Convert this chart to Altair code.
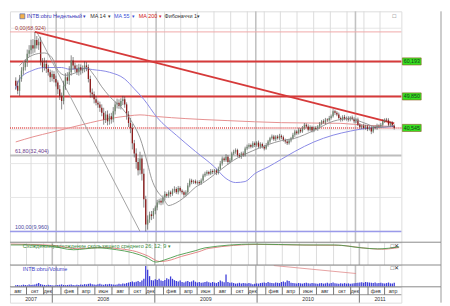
import altair as alt
import pandas as pd

FONT = "Liberation Sans"
FIRST_WEEK = "2007-08-06"
X_START = alt.DateTime(year=2007, month=8, date=3)
X_END = alt.DateTime(year=2011, month=5, date=31)

# weekly candles (price in thousands, shown with a decimal comma)
closes = [
    53.0, 51.5, 55.0, 57.5, 58.5, 60.0, 62.5, 63.5, 65.0, 64.0,
    66.5, 65.0, 66.0, 60.0, 58.5, 59.5, 58.0, 57.0, 55.5, 56.5,
    55.0, 54.0, 52.0, 50.0, 48.5, 53.0, 55.5, 54.5, 57.0, 60.5,
    59.0, 58.0, 57.0, 58.5, 57.5, 58.0, 59.0, 58.5, 55.0, 51.0,
    50.5, 49.0, 48.0, 47.5, 46.5, 45.0, 43.0, 44.5, 42.5, 44.0,
    43.0, 45.5, 47.5, 48.0, 47.0, 48.5, 49.0, 47.5, 44.5, 42.0,
    40.5, 36.0, 33.0, 30.5, 28.0, 31.5, 27.0, 19.5, 12.0, 13.5,
    15.0, 14.5, 16.0, 17.0, 18.5, 19.0, 18.5, 20.0, 21.0, 20.5,
    21.5, 21.0, 22.0, 22.5, 21.5, 22.8, 22.0, 21.5, 20.8, 21.5,
    23.5, 25.0, 24.5, 24.8, 24.3, 24.6, 24.2, 25.0, 26.5, 27.0,
    27.5, 27.0, 27.8, 27.5, 28.0, 27.2, 28.5, 30.0, 31.5, 31.0,
    32.0, 30.5, 31.0, 33.0, 33.5, 34.0, 32.5, 32.0, 33.0, 32.5,
    34.5, 35.0, 35.5, 35.0, 36.0, 35.5, 36.2, 35.0, 35.8, 35.0,
    34.5, 35.5, 36.5, 37.5, 38.0, 37.2, 38.0, 37.5, 38.2, 37.8,
    37.0, 36.5, 36.0, 36.8, 37.5, 38.5, 39.5, 39.0, 40.0, 39.5,
    40.5, 41.5, 41.0, 40.0, 40.8, 39.8, 40.5, 40.2, 41.0, 41.8,
    42.5, 42.2, 43.0, 42.8, 43.5, 44.0, 45.5, 45.0, 44.5, 43.5,
    43.0, 43.8, 43.2, 43.5, 43.0, 43.6, 43.2, 42.5, 43.0, 41.5,
    40.8, 41.2, 40.5, 41.0, 40.2, 40.6, 39.5, 40.8, 40.5, 41.2,
    41.0, 41.5, 42.5, 43.0, 42.8, 41.5, 42.0, 41.2, 40.545,
]
opens = [
    54.5, 53.0, 51.5, 55.0, 57.5, 58.5, 60.0, 62.5, 63.5, 65.0,
    64.0, 66.5, 65.0, 66.0, 60.0, 58.5, 59.5, 58.0, 57.0, 55.5,
    56.5, 55.0, 54.0, 52.0, 50.0, 48.5, 53.0, 55.5, 54.5, 57.0,
    60.5, 59.0, 58.0, 57.0, 58.5, 57.5, 58.0, 59.0, 58.5, 55.0,
    51.0, 50.5, 49.0, 48.0, 47.5, 46.5, 45.0, 43.0, 44.5, 42.5,
    44.0, 43.0, 45.5, 47.5, 48.0, 47.0, 48.5, 49.0, 47.5, 44.5,
    42.0, 40.5, 36.0, 33.0, 30.5, 28.0, 31.5, 27.0, 19.5, 12.0,
    13.5, 15.0, 14.5, 16.0, 17.0, 18.5, 19.0, 18.5, 20.0, 21.0,
    20.5, 21.5, 21.0, 22.0, 22.5, 21.5, 22.8, 22.0, 21.5, 20.8,
    21.5, 23.5, 25.0, 24.5, 24.8, 24.3, 24.6, 24.2, 25.0, 26.5,
    27.0, 27.5, 27.0, 27.8, 27.5, 28.0, 27.2, 28.5, 30.0, 31.5,
    31.0, 32.0, 30.5, 31.0, 33.0, 33.5, 34.0, 32.5, 32.0, 33.0,
    32.5, 34.5, 35.0, 35.5, 35.0, 36.0, 35.5, 36.2, 35.0, 35.8,
    35.0, 34.5, 35.5, 36.5, 37.5, 38.0, 37.2, 38.0, 37.5, 38.2,
    37.8, 37.0, 36.5, 36.0, 36.8, 37.5, 38.5, 39.5, 39.0, 40.0,
    39.5, 40.5, 41.5, 41.0, 40.0, 40.8, 39.8, 40.5, 40.2, 41.0,
    41.8, 42.5, 42.2, 43.0, 42.8, 43.5, 44.0, 45.5, 45.0, 44.5,
    43.5, 43.0, 43.8, 43.2, 43.5, 43.0, 43.6, 43.2, 42.5, 43.0,
    41.5, 40.8, 41.2, 40.5, 41.0, 40.2, 40.6, 39.5, 40.8, 40.5,
    41.2, 41.0, 41.5, 42.5, 43.0, 42.8, 41.5, 42.0, 41.2,
]
up_wick = [
    1.0, 1.5, 1.2, 1.0, 1.4, 0.8, 1.2, 1.5, 1.6, 1.8,
    2.424, 1.2, 1.0, 1.5, 1.2, 1.8, 1.0, 1.2, 0.8, 1.0,
    0.8, 1.0, 0.6, 1.2, 1.0, 1.5, 1.2, 1.5, 1.8, 1.5,
    1.0, 0.8, 1.2, 1.0, 0.8, 1.0, 1.2, 1.0, 0.8, 1.0,
    1.2, 0.8, 1.0, 0.6, 0.8, 1.0, 1.5, 1.0, 1.2, 0.8,
    1.0, 1.2, 0.8, 1.2, 1.0, 0.8, 1.0, 0.8, 0.6, 1.0,
    1.5, 1.2, 1.0, 1.5, 1.2, 2.0, 1.0, 1.5, 1.0, 1.2,
    0.8, 1.0, 0.8, 0.6, 0.8, 0.6, 0.8, 0.6, 0.8, 0.5,
    0.6, 0.5, 0.6, 0.8, 0.5, 0.6, 0.5, 0.4, 0.5, 0.6,
    0.8, 0.6, 0.5, 0.4, 0.5, 0.4, 0.5, 0.6, 0.5, 0.6,
    0.5, 0.4, 0.6, 0.5, 0.4, 0.5, 0.6, 0.8, 0.6, 0.5,
    0.8, 0.5, 0.6, 0.5, 0.6, 0.5, 0.4, 0.6, 0.5, 0.6,
    0.5, 0.6, 0.5, 0.4, 0.6, 0.5, 0.4, 0.6, 0.5, 0.4,
    0.5, 0.6, 0.5, 0.4, 0.6, 0.5, 0.4, 0.5, 0.6, 0.4,
    0.5, 0.4, 0.6, 0.5, 0.4, 0.6, 0.5, 0.4, 0.6, 0.5,
    0.6, 0.5, 0.4, 0.6, 0.5, 0.4, 0.5, 0.6, 0.4, 0.5,
    0.4, 0.6, 0.5, 0.4, 0.6, 0.5, 0.6, 0.4, 0.5, 0.6,
    0.4, 0.5, 0.6, 0.4, 0.5, 0.4, 0.6, 0.5, 0.4, 0.6,
    0.5, 0.4, 0.6, 0.5, 0.4, 0.6, 0.5, 0.4, 0.5, 0.6,
    0.4, 0.5, 0.6, 0.4, 0.5, 0.6, 0.4, 0.5, 0.4,
]
dn_wick = [
    1.2, 1.0, 1.5, 0.8, 1.2, 1.0, 1.4, 1.0, 1.2, 1.5,
    1.2, 1.0, 1.4, 1.0, 1.5, 1.0, 1.2, 1.0, 1.4, 1.2,
    1.0, 1.2, 1.5, 1.2, 2.5, 1.0, 1.2, 1.0, 1.2, 1.0,
    1.2, 1.0, 0.8, 1.0, 1.2, 0.8, 1.0, 1.2, 1.0, 1.5,
    1.0, 1.2, 0.8, 1.0, 1.2, 1.0, 1.5, 1.0, 1.2, 1.0,
    1.2, 0.8, 1.0, 1.2, 0.8, 1.0, 1.2, 1.0, 1.5, 1.2,
    1.5, 1.8, 1.2, 2.0, 1.5, 1.2, 2.0, 2.5, 2.04, 1.5,
    1.0, 1.2, 0.8, 1.0, 0.8, 0.6, 0.8, 0.6, 0.8, 0.6,
    0.6, 0.8, 0.5, 0.6, 0.5, 0.6, 0.5, 0.6, 0.8, 0.5,
    0.6, 0.5, 0.6, 0.5, 0.4, 0.5, 0.6, 0.5, 0.4, 0.5,
    0.6, 0.5, 0.4, 0.6, 0.5, 0.6, 0.4, 0.5, 0.6, 0.5,
    0.5, 0.8, 0.5, 0.4, 0.5, 0.6, 0.5, 0.4, 0.6, 0.5,
    0.4, 0.5, 0.6, 0.5, 0.4, 0.6, 0.5, 0.4, 0.6, 0.5,
    0.6, 0.4, 0.5, 0.6, 0.4, 0.5, 0.6, 0.4, 0.5, 0.6,
    0.5, 0.6, 0.5, 0.4, 0.5, 0.4, 0.6, 0.5, 0.4, 0.5,
    0.4, 0.5, 0.6, 0.5, 0.4, 0.6, 0.5, 0.4, 0.5, 0.6,
    0.5, 0.4, 0.6, 0.5, 0.4, 0.5, 0.4, 0.6, 0.5, 0.4,
    0.6, 0.5, 0.4, 0.5, 0.6, 0.5, 0.4, 0.6, 0.5, 0.4,
    0.5, 0.6, 0.4, 0.5, 0.6, 0.4, 0.8, 0.5, 0.4, 0.5,
    0.5, 0.4, 0.6, 0.5, 0.4, 0.5, 0.6, 0.4, 0.5,
]
volume_mln = [
    6, 7, 5, 6, 8, 7, 6, 9, 7, 8,
    9, 11, 14, 10, 8, 7, 6, 8, 7, 6,
    5, 6, 7, 8, 9, 7, 6, 7, 8, 9,
    7, 6, 8, 7, 9, 8, 10, 9, 11, 12,
    10, 9, 8, 10, 11, 9, 8, 10, 9, 11,
    10, 9, 8, 9, 11, 10, 12, 11, 14, 16,
    18, 20, 17, 19, 22, 18, 24, 30, 78, 64,
    40, 25, 24, 28, 26, 30, 24, 22, 26, 32,
    28, 39, 30, 25, 22, 20, 24, 18, 16, 20,
    22, 18, 20, 24, 19, 16, 18, 15, 16, 18,
    20, 17, 15, 18, 16, 14, 18, 24, 20, 17,
    46, 18, 15, 16, 14, 12, 13, 15, 12, 14,
    13, 12, 14, 12, 10, 11, 13, 12, 14, 15,
    16, 14, 18, 15, 14, 13, 16, 15, 14, 18,
    20, 17, 24, 22, 15, 14, 13, 12, 14, 13,
    12, 14, 15, 13, 12, 14, 13, 12, 11, 13,
    14, 12, 13, 15, 12, 14, 16, 13, 12, 11,
    13, 12, 14, 12, 13, 11, 12, 13, 14, 15,
    16, 17, 15, 18, 17, 16, 15, 14, 16, 13,
    14, 15, 13, 12, 14, 16, 13, 12, 15,
]

# indicator lines (week index -> value)
ma14_weeks = [2, 9, 15, 19, 22, 26, 32, 37, 41, 45, 49, 56, 61, 65, 69, 71, 74, 77, 80, 82,
              89, 94, 99, 104, 107, 114, 124, 132, 139, 146, 156, 166, 175, 181, 190, 198]
ma14_vals = [59.0, 62.1, 62.7, 61.3, 57.6, 56.1, 57.0, 58.4, 56.1, 52.7, 49.9, 46.1, 42.1, 37.6,
             29.9, 25.6, 21.9, 19.9, 17.6, 17.9, 20.4, 23.0, 24.7, 26.8, 28.1, 31.0, 33.8, 35.6,
             36.8, 37.5, 39.8, 42.5, 43.3, 42.3, 40.7, 41.3]
ma55_weeks = [0, 2, 9, 15, 24, 28, 36, 40, 49, 57, 62, 67, 74, 84, 94, 104, 110, 115, 120, 125,
              132, 139, 146, 156, 166, 175, 183, 191, 198]
ma55_vals = [52.1, 55.0, 57.6, 58.4, 58.4, 57.9, 58.1, 57.8, 57.0, 55.0, 52.1, 49.0, 43.6, 38.4,
             33.6, 29.0, 25.6, 24.4, 24.7, 27.0, 29.0, 31.3, 33.6, 36.4, 38.4, 39.6, 40.4, 40.7, 41.0]
ma200_weeks = [0, 9, 19, 29, 39, 49, 59, 65, 74, 89, 99, 111, 139, 170, 183, 198]
ma200_vals = [36.4, 37.9, 39.3, 40.7, 42.1, 43.3, 44.1, 44.4, 43.9, 43.3, 43.0, 42.7, 42.1, 41.9,
              41.3, 41.0]
trend_weeks = [10, 198]
trend_vals = [68.924, 41.9]
fib_diag_weeks = [11, 65]
fib_diag_vals = [68.924, 9.96]

macd_weeks = [0, 9, 20, 32, 44, 54, 62, 69, 74, 78, 85, 94, 99, 124, 149, 165, 179, 187, 198]
macd_vals = [1.7, 1.7, 1.1, -1.1, 0.0, -1.1, -2.8, -5.5, -8.3, -7.2, -4.4, -1.7, 0.0, 2.2, 1.7,
             1.7, 0.0, -0.6, 0.6]
signal_weeks = [0, 10, 22, 34, 46, 56, 64, 70, 76, 80, 87, 96, 101, 126, 151, 167, 181, 189, 198]
signal_vals = [2.2, 2.0, 1.4, -0.5, 0.2, -0.6, -2.2, -4.8, -8.0, -7.5, -5.0, -2.2, -0.3, 2.0, 1.6,
               1.5, -0.2, -0.8, 0.2]
vol_trend_weeks = [135, 178]
vol_trend_vals = [80, 50]

level_values = [60.193, 49.850]
last_price = [40.545]
fib_values = [68.924, 32.404, 9.96]
fib_texts = ["0,00(68,924)", "61,80(32,404)", "100,00(9,960)"]
grid_levels = [10, 20, 30, 40, 50, 60, 70]
price_ticks = [10, 20, 30, 70]
tag_values = [60.193, 49.850, 40.545]
tag_texts = ["60,193", "49,850", "40,545"]

month_grid = ["2007-10-01", "2007-12-01",
              "2008-02-01", "2008-04-01", "2008-06-01", "2008-08-01", "2008-10-01", "2008-12-01",
              "2009-02-01", "2009-04-01", "2009-06-01", "2009-08-01", "2009-10-01", "2009-12-01",
              "2010-02-01", "2010-04-01", "2010-06-01", "2010-08-01", "2010-10-01", "2010-12-01",
              "2011-02-01", "2011-04-01"]
year_starts = ["2008-01-01", "2009-01-01", "2010-01-01", "2011-01-01"]
month_labels = ["авг", "окт", "дек",
                "фев", "апр", "июн", "авг", "окт", "дек",
                "фев", "апр", "июн", "авг", "окт", "дек",
                "фев", "апр", "июн", "авг", "окт", "дек",
                "фев", "апр"]
month_label_dates = ["2007-09-01", "2007-10-31", "2007-12-16",
                     "2008-03-01", "2008-05-01", "2008-07-01", "2008-08-31", "2008-10-31", "2008-12-16",
                     "2009-03-01", "2009-05-01", "2009-07-01", "2009-08-31", "2009-10-31", "2009-12-16",
                     "2010-03-01", "2010-05-01", "2010-07-01", "2010-08-31", "2010-10-31", "2010-12-16",
                     "2011-03-01", "2011-05-01"]
year_labels = ["2007", "2008", "2009", "2010", "2011"]
year_label_dates = ["2007-10-17", "2008-07-01", "2009-07-02", "2010-07-02", "2011-03-16"]

legend_items = ["INTB:obru Недельный", "▾", "MA 14", "▾", "MA 55", "▾", "MA 200", "▾", "Фибоначчи 1", "▾"]
legend_colors = ["#3535b8", "#3535b8", "#333333", "#333333", "#3b4fd8", "#3b4fd8", "#d02020", "#d02020",
                 "#333333", "#333333"]
macd_title = "Схождение/расхождение скользящего среднего 26; 12; 9 ▾"
vol_title = "INTB:obru/Volume"

# ---------------- layout ----------------
W = 395
H_MAIN, H_MACD, H_VOL, H_AX = 233, 23, 22, 16
FRAME_X = W + 40
legend_x = [17, 74, 81, 99, 105, 123, 130, 150, 156, 189]

dates = pd.date_range(FIRST_WEEK, periods=len(closes), freq="7D")
candles = pd.DataFrame({"date": dates, "open": opens, "close": closes,
                        "uw": up_wick, "dw": dn_wick, "vol": volume_mln})


def knots(weeks, vals):
    return pd.DataFrame({"date": dates[weeks], "v": vals})


one = pd.DataFrame({"k": [0]})
XS = alt.Scale(domain=[X_START, X_END])
X = alt.X("date:T", scale=XS, axis=None, title=None)
YP = alt.Scale(domain=[6.77, 75.0], nice=False, zero=False)
YM = alt.Scale(domain=[-10.0, 3.3], nice=False, zero=False)
YV = alt.Scale(domain=[0, 82], nice=False, zero=True)


def right_axis(values, expr):
    return alt.Axis(orient="right", values=values, labelExpr=expr, title=None, grid=False,
                    domainColor="#111111", domainDash=[1, 1], domainWidth=1, tickColor="#111111",
                    tickSize=2, labelFontSize=5.5, labelColor="#222222", labelPadding=2,
                    labelFont=FONT, labelFlush=False)


def vgrid():
    g = alt.Chart(pd.DataFrame({"date": pd.to_datetime(month_grid)})).mark_rule(
        color="#dcdcdc", strokeWidth=1).encode(x=X)
    y = alt.Chart(pd.DataFrame({"date": pd.to_datetime(year_starts)})).mark_rule(
        color="#c2c2c2", strokeWidth=1.6).encode(x=X)
    return [g, y]


def frame(h, top_rule=True):
    layers = [alt.Chart(one).mark_rule(color="#9a9a9a", strokeWidth=1).encode(
        x=alt.value(FRAME_X), y=alt.value(0), y2=alt.value(h))]
    if top_rule:
        layers.append(alt.Chart(one).mark_rule(color="#8a8a8a", strokeWidth=1).encode(
            x=alt.value(0), x2=alt.value(FRAME_X), y=alt.value(0)))
    return layers


def txt(text, x, y, color, size=5.5, align="left"):
    return alt.Chart(one).mark_text(text=text, color=color, fontSize=size, font=FONT,
                                    align=align, baseline="middle").encode(
        x=alt.value(x), y=alt.value(y))


# ---------------- main price panel ----------------
hgrid = alt.Chart(pd.DataFrame({"v": grid_levels})).mark_rule(color="#e6e6e6", strokeWidth=1).encode(
    y=alt.Y("v:Q", scale=YP, axis=None))
fib0 = alt.Chart(pd.DataFrame({"v": fib_values[:1]})).mark_rule(color="#f0a8a8", strokeWidth=1).encode(
    y=alt.Y("v:Q", scale=YP, axis=None))
fib618 = alt.Chart(pd.DataFrame({"v": fib_values[1:2]})).mark_rule(color="#bdbdbd", strokeWidth=2).encode(
    y=alt.Y("v:Q", scale=YP, axis=None))
fib100 = alt.Chart(pd.DataFrame({"v": fib_values[2:]})).mark_rule(color="#9a9aea", strokeWidth=1.5).encode(
    y=alt.Y("v:Q", scale=YP, axis=None))
levels = alt.Chart(pd.DataFrame({"v": level_values})).mark_rule(color="#d63a3a", strokeWidth=2).encode(
    y=alt.Y("v:Q", scale=YP, axis=None))
lastline = alt.Chart(pd.DataFrame({"v": last_price})).mark_rule(
    color="#e05050", strokeWidth=1.6, strokeDash=[1, 1]).encode(y=alt.Y("v:Q", scale=YP, axis=None))


def pline(weeks, vals, color, width, interp="monotone"):
    return alt.Chart(knots(weeks, vals)).mark_line(color=color, strokeWidth=width,
                                                   interpolate=interp).encode(
        x=X, y=alt.Y("v:Q", scale=YP, axis=None))


ma200 = pline(ma200_weeks, ma200_vals, "#e69090", 1)
ma55 = pline(ma55_weeks, ma55_vals, "#8a8ae6", 1)
ma14 = pline(ma14_weeks, ma14_vals, "#8c8c8c", 0.9)
fibdiag = pline(fib_diag_weeks, fib_diag_vals, "#9a9a9a", 0.9, "linear")
trend = pline(trend_weeks, trend_vals, "#d63a3a", 1.8, "linear")

cbase = alt.Chart(candles).transform_calculate(
    high="max(datum.open, datum.close) + datum.uw",
    low="min(datum.open, datum.close) - datum.dw")
wicks = cbase.mark_rule(color="#3d3d3d", strokeWidth=0.6).encode(
    x=X, y=alt.Y("low:Q", scale=YP, axis=None), y2="high:Q")
bodies = cbase.mark_bar(width=1.3).encode(
    x=X,
    y=alt.Y("open:Q", scale=YP, title=None,
            axis=right_axis(price_ticks, "replace(format(datum.value, '.3f'), '.', ',')")),
    y2="close:Q",
    color=alt.condition("datum.close >= datum.open", alt.value("#6b856b"), alt.value("#8e1a1a")))

fiblabels = alt.Chart(pd.DataFrame({"v": fib_values, "t": fib_texts,
                                    "c": ["#a04040", "#6a3a8a", "#4a4aa0"]})).mark_text(
    fontSize=5.5, font=FONT, align="left", baseline="middle", dy=-4).encode(
    x=alt.value(5), y=alt.Y("v:Q", scale=YP, axis=None), text="t:N",
    color=alt.Color("c:N", scale=None))

tagdf = pd.DataFrame({"v": tag_values, "t": tag_texts})
tags = alt.Chart(tagdf).transform_calculate(lo="datum.v - 1.05", hi="datum.v + 1.05").mark_rect(
    color="#35e020", stroke="#8a5a20", strokeWidth=0.6).encode(
    x=alt.value(W + 1), x2=alt.value(W + 20),
    y=alt.Y("lo:Q", scale=YP, axis=None), y2="hi:Q")
tagtext = alt.Chart(tagdf).mark_text(fontSize=5.3, font=FONT, color="#1e3a1e", align="center",
                                     baseline="middle").encode(
    x=alt.value(W + 10.5), y=alt.Y("v:Q", scale=YP, axis=None), text="t:N")

legend_layers = [txt(t, x, 5, c) for t, x, c in zip(legend_items, legend_x, legend_colors)]
icon = alt.Chart(one).mark_rect(fill="#f3b04a", stroke="#3a5ab8", strokeWidth=0.6).encode(
    x=alt.value(10), x2=alt.value(15), y=alt.value(2.5), y2=alt.value(7.5))

main = alt.layer(
    hgrid, *vgrid(), fib0, fib618, fib100, levels, lastline, ma200, ma55, fibdiag, trend,
    wicks, bodies, ma14, fiblabels, tags, tagtext, icon, *legend_layers,
    txt("□", W - 9, 5, "#555555", 6), *frame(H_MAIN, top_rule=False),
).properties(width=W, height=H_MAIN)

# ---------------- MACD panel ----------------
macd_line = alt.Chart(knots(macd_weeks, macd_vals)).mark_line(
    color="#4a9a4a", strokeWidth=0.9, interpolate="monotone").encode(
    x=X, y=alt.Y("v:Q", scale=YM, title=None,
                 axis=right_axis([0, -5], "(datum.value < 0 ? '-' : '') + replace(format(abs(datum.value), '.3f'), '.', ',')")))
sig_line = alt.Chart(knots(signal_weeks, signal_vals)).mark_line(
    color="#e07a7a", strokeWidth=0.9, interpolate="monotone").encode(
    x=X, y=alt.Y("v:Q", scale=YM, axis=None))
macd = alt.layer(
    *vgrid(), sig_line, macd_line, txt(macd_title, 13, 3.5, "#3a8a3a"),
    txt("□✕", W - 11, 3.5, "#333333", 6), *frame(H_MACD),
).properties(width=W, height=H_MACD)

# ---------------- volume panel ----------------
vol_bars = alt.Chart(candles).mark_bar(width=1.3, color="#3d3dd8").encode(
    x=X, y=alt.Y("vol:Q", scale=YV, title=None,
                 axis=right_axis([50], "replace(replace(format(datum.value * 1000000, ','), ',', ' '), ',', ' ')")))
vol_trend = alt.Chart(knots(vol_trend_weeks, vol_trend_vals)).mark_line(
    color="#e08a8a", strokeWidth=0.8).encode(x=X, y=alt.Y("v:Q", scale=YV, axis=None))
vol = alt.layer(
    *vgrid(), vol_bars, vol_trend, txt(vol_title, 13, 4, "#4040c8"),
    txt("□✕", W - 11, 3.5, "#333333", 6), *frame(H_VOL),
).properties(width=W, height=H_VOL)

# ---------------- time axis rows ----------------
msep = alt.Chart(pd.DataFrame({"date": pd.to_datetime(month_grid)})).mark_rule(
    color="#555555", strokeWidth=0.8).encode(x=X, y=alt.value(0), y2=alt.value(8))
ysep = alt.Chart(pd.DataFrame({"date": pd.to_datetime(year_starts)})).mark_rule(
    color="#555555", strokeWidth=0.8).encode(x=X, y=alt.value(0), y2=alt.value(H_AX))
mtext = alt.Chart(pd.DataFrame({"date": pd.to_datetime(month_label_dates), "t": month_labels})).mark_text(
    fontSize=5.3, font=FONT, color="#333333", baseline="middle").encode(x=X, y=alt.value(4.2), text="t:N")
ytext = alt.Chart(pd.DataFrame({"date": pd.to_datetime(year_label_dates), "t": year_labels})).mark_text(
    fontSize=5.3, font=FONT, color="#333333", baseline="middle").encode(x=X, y=alt.value(12.2), text="t:N")
midrule = alt.Chart(one).mark_rule(color="#777777", strokeWidth=0.8).encode(
    x=alt.value(0), x2=alt.value(W), y=alt.value(8))
axis_rows = alt.layer(msep, ysep, midrule, mtext, ytext, *frame(H_AX)).properties(width=W, height=H_AX)

chart = alt.vconcat(main, macd, vol, axis_rows, spacing=0, bounds="flush").resolve_scale(
    y="independent").properties(
    padding={"left": 0, "top": 0, "right": 0, "bottom": 0}).configure_view(
    stroke="#b0b0b0", strokeWidth=0.8).configure(font=FONT)

chart.save("out.html", embed_options={"renderer": "svg", "actions": False})
